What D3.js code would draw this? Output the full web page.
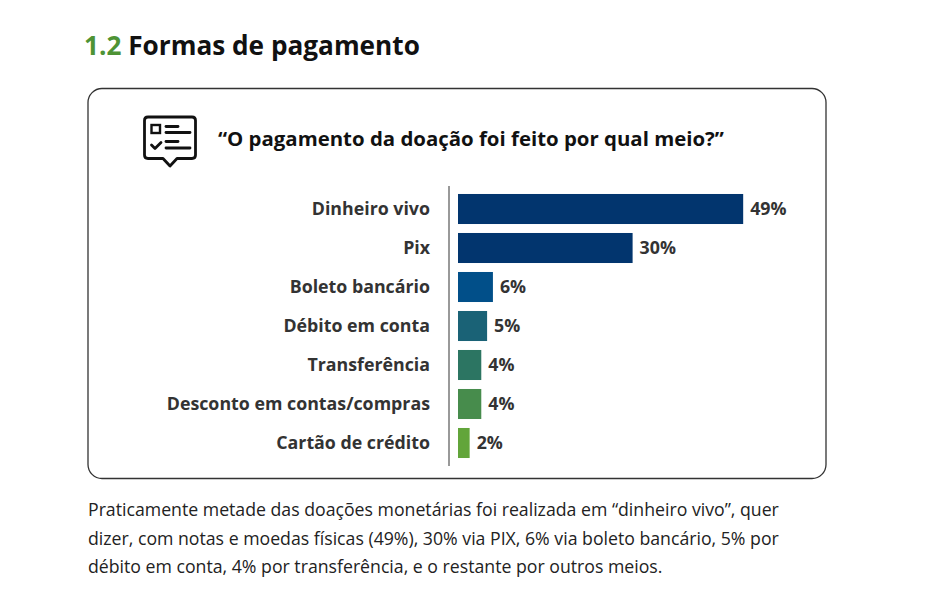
<!DOCTYPE html>
<html><head><meta charset="utf-8">
<script src="https://cdn.jsdelivr.net/npm/d3@7"></script>
<style>
html,body{margin:0;padding:0;background:#fff;}
svg{display:block;font-family:"Open Sans","Noto Sans",sans-serif;}
</style></head>
<body>
<svg id="c" width="941" height="613"></svg>
<script>
const categories = ["Dinheiro vivo","Pix","Boleto bancário","Débito em conta","Transferência","Desconto em contas/compras","Cartão de crédito"];
const values = [49,30,6,5,4,4,2];
const valueLabels = ["49%","30%","6%","5%","4%","4%","2%"];
const barColors = ["#02356e","#02356e","#014f89","#1a6276","#2c7562","#478c4c","#62a53a"];
const sectionNumber = "1.2";
const sectionTitle = "Formas de pagamento";
const question = "“O pagamento da doação foi feito por qual meio?”";
const paragraph = [
  "Praticamente metade das doações monetárias foi realizada em “dinheiro vivo”, quer",
  "dizer, com notas e moedas físicas (49%), 30% via PIX, 6% via boleto bancário, 5% por",
  "débito em conta, 4% por transferência, e o restante por outros meios."
];

const svg = d3.select("#c");

// Section title
const t = svg.append("text").attr("x",84).attr("y",55)
  .style("font-size","26.2px").style("font-weight","700");
t.append("tspan").attr("fill","#4e9335").text(sectionNumber + " ");
t.append("tspan").attr("fill","#111").text(sectionTitle);

// Box
svg.append("rect").attr("x",88).attr("y",88.5).attr("width",738).attr("height",390)
  .attr("rx",14).attr("fill","none").attr("stroke","#333").attr("stroke-width",1.3);

// Icon
const ic = svg.append("g").attr("fill","none").attr("stroke","#111").attr("stroke-width",2.8)
  .attr("stroke-linecap","round").attr("stroke-linejoin","round");
ic.append("path").attr("d","M148,117 H192 Q195.5,117 195.5,120.5 V155 Q195.5,158.5 192,158.5 H177 L170,166 L163,158.5 H148 Q144.5,158.5 144.5,155 V120.5 Q144.5,117 148,117 Z");
ic.append("rect").attr("x",151.5).attr("y",125).attr("width",8.5).attr("height",8).attr("stroke-width",2.4).attr("stroke-linecap","butt").attr("stroke-linejoin","miter");
ic.append("line").attr("x1",166).attr("y1",126.5).attr("x2",178).attr("y2",126.5);
ic.append("line").attr("x1",166).attr("y1",132.5).attr("x2",190).attr("y2",132.5);
ic.append("path").attr("d","M151.5,145 L155,148.5 L161,142.5");
ic.append("line").attr("x1",166).attr("y1",141.5).attr("x2",178).attr("y2",141.5);
ic.append("line").attr("x1",166).attr("y1",148).attr("x2",190).attr("y2",148);

// Question
svg.append("text").attr("x",218).attr("y",146).attr("fill","#111")
  .style("font-size","20.4px").style("font-weight","700").text(question);

// Chart
const x0 = 458;
const x = d3.scaleLinear().domain([0,100]).range([x0, x0+582]);
const y = d3.scaleBand().domain(categories).range([189.5, 189.5+39*7]).paddingInner(0.23).paddingOuter(0.115);

svg.append("g").selectAll("rect").data(categories).join("rect")
  .attr("x", x(0)).attr("y", d=>y(d))
  .attr("width", (d,i)=>x(values[i])-x(0)).attr("height", y.bandwidth())
  .attr("fill",(d,i)=>barColors[i]);

svg.append("g").selectAll("text").data(categories).join("text")
  .attr("x", (d,i)=>x(values[i])+7).attr("y", d=>y(d)+y.bandwidth()/2)
  .attr("dy","0.35em").attr("fill","#333")
  .style("font-size","17.8px").style("font-weight","700")
  .text((d,i)=>valueLabels[i]);

// Category axis
const axis = d3.axisLeft(y).tickSize(0).tickPadding(0);
const ag = svg.append("g").attr("transform","translate(430,0)").call(axis);
ag.select(".domain").remove();
ag.selectAll("text").attr("fill","#333").style("font-size","17.8px").style("font-weight","700")
  .style("font-family","'Open Sans','Noto Sans',sans-serif");

svg.append("line").attr("x1",449).attr("x2",449).attr("y1",186).attr("y2",466)
  .attr("stroke","#999").attr("stroke-width",2);

// Paragraph
svg.append("g").selectAll("text").data(paragraph).join("text")
  .attr("x",88).attr("y",(d,i)=>516+i*28.7).attr("fill","#222")
  .style("font-size","17.7px").text(d=>d);
</script>
</body></html>
